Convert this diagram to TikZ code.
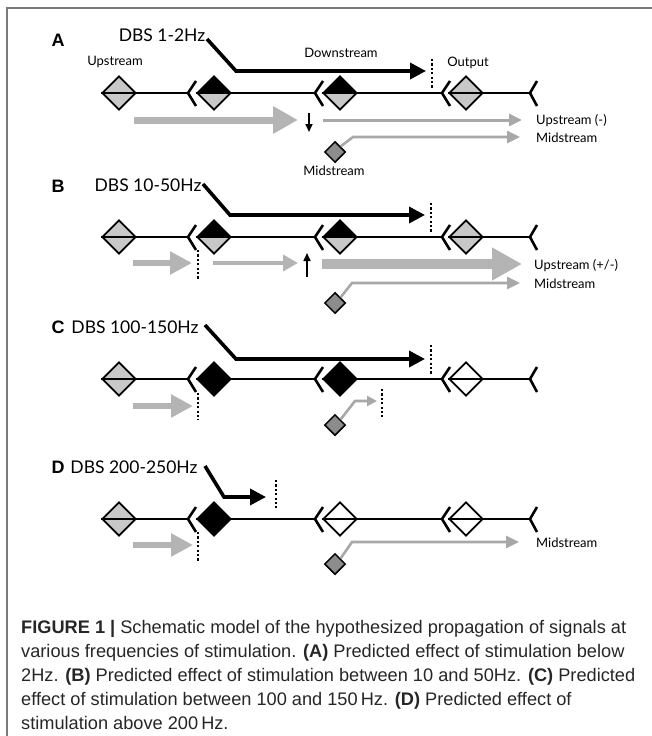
\documentclass[tikz,border=0pt]{standalone}
\usepackage{fontspec}
\setmainfont{Liberation Sans}
\newfontfamily\gill{Lato}
\usetikzlibrary{arrows.meta,shapes.geometric}
\definecolor{lgray}{HTML}{C8C8C8}
\definecolor{agray}{HTML}{B4B4B4}
\definecolor{tgray}{HTML}{A8A8A8}
\definecolor{mgray}{HTML}{8C8C8C}
\definecolor{framec}{HTML}{7A7A7A}
\definecolor{captc}{HTML}{262626}
\tikzset{
  cell/.style 2 args={diamond, draw=black, line width=1.8pt, minimum width=34pt, minimum height=34pt, inner sep=0pt, fill=#1,
    path picture={\fill[#2] (path picture bounding box.west) rectangle (path picture bounding box.south east);}},
  midcell/.style={diamond, draw=black, line width=1.5pt, minimum width=21pt, minimum height=21pt, inner sep=0pt, fill=mgray},
  axonline/.style={line width=2.2pt, black},
  synline/.style={line width=2.6pt, black, line join=round},
  dbsarrow/.style={line width=3.6pt, black, -{Triangle[length=16pt,width=16pt]}},
  dotv/.style={line width=1.6pt, black, dash pattern=on 2.2pt off 2.2pt},
  gthick/.style={line width=7pt, agray, -{Triangle[length=25pt,width=26pt]}},
  gbig/.style={line width=10pt, agray, -{Triangle[length=30pt,width=31pt]}},
  gmed/.style={line width=4pt, agray, -{Triangle[length=15pt,width=16pt]}},
  gthin/.style={line width=3pt, tgray, -{Triangle[length=13pt,width=12pt]}},
  gmid/.style={line width=2.6pt, tgray, -{Triangle[length=13pt,width=12pt]}},
  smallarrow/.style={line width=1.6pt, black, -{Triangle[length=8pt,width=7pt]}},
  lab/.style={font=\gill\fontsize{13}{15}\selectfont, inner sep=0pt},
  dbs/.style={font=\gill\fontsize{17.5}{20}\selectfont, inner sep=0pt},
  letter/.style={font=\bfseries\fontsize{18}{20}\selectfont, inner sep=0pt},
  capline/.style={font=\fontsize{18.2}{22}\selectfont, text=captc, anchor=base west, inner sep=0pt},
}
\newcommand\axonrow[7]{%
  \node[cell={lgray}{lgray}] (#1n1) at (119,#2) {};
  \node[cell={#3}{#4}] (#1n2) at (214,#2) {};
  \node[cell={#5}{#6}] (#1n3) at (340,#2) {};
  \node[cell={#7}{#7}] (#1n4) at (466,#2) {};
  \coordinate (#1s1) at (188,#2);
  \coordinate (#1s2) at (315,#2);
  \coordinate (#1s3) at (442,#2);
  \coordinate (#1s4) at (530,#2);
  \draw[axonline] (#1n1.west) -- (#1s1);
  \draw[axonline] (#1n2.west) -- (#1s2);
  \draw[axonline] (#1n3.west) -- (#1s3);
  \draw[axonline] (#1n4.west) -- (#1s4);
  \draw[synline] ([shift={(8,-12)}]#1s1) -- (#1s1) -- ([shift={(8,13)}]#1s1);
  \draw[synline] ([shift={(8,-12)}]#1s2) -- (#1s2) -- ([shift={(8,13)}]#1s2);
  \draw[synline] ([shift={(8,-12)}]#1s3) -- (#1s3) -- ([shift={(8,13)}]#1s3);
  \draw[synline] ([shift={(7,-12)}]#1s4) -- (#1s4) -- ([shift={(7,13)}]#1s4);
}
\begin{document}
\begin{tikzpicture}[x=1pt,y=-1pt]
\useasboundingbox (0,0) rectangle (652,736);
\draw[framec, line width=1.5pt] (7,736) -- (7,8) -- (652,8);

% ---------------- Panel A
\node[letter] (Alet) at (58,40) {A};
\node[dbs] (Adbs) at (162,35) {DBS 1-2Hz};
\node[lab] (Aup) at (115,62) {Upstream};
\node[lab] (Adown) at (341,53) {Downstream};
\node[lab] (Aout) at (468,63) {Output};
\axonrow{A}{93}{black}{lgray}{black}{lgray}{lgray}
\coordinate (Aa0) at (207,39); \coordinate (Aa1) at (236,71); \coordinate (Aa2) at (426,71);
\draw[dbsarrow] (Aa0) -- (Aa1) -- (Aa2);
\coordinate (Ad0) at (432,59); \coordinate (Ad1) at (432,88);
\draw[dotv] (Ad0) -- (Ad1);
\coordinate (Ag0) at (134,120); \coordinate (Ag1) at (298,120);
\draw[gthick] (Ag0) -- (Ag1);
\coordinate (Ak0) at (309,113); \coordinate (Ak1) at (309,132);
\draw[smallarrow] (Ak0) -- (Ak1);
\coordinate (At0) at (323,120); \coordinate (At1) at (522,120);
\draw[gthin] (At0) -- (At1);
\node[lab, anchor=west] (Aupm) at (536,121) {Upstream (-)};
\node[midcell] (Amid) at (335,152) {};
\node[lab] (Amidl) at (334,171) {Midstream};
\coordinate (Am1) at (353,137); \coordinate (Am2) at (520,137);
\draw[gmid] (Amid.north east) -- (Am1) -- (Am2);
\node[lab, anchor=west] (Amidr) at (536,138) {Midstream};

% ---------------- Panel B
\node[letter] (Blet) at (58,186) {B};
\node[dbs] (Bdbs) at (148,185) {DBS 10-50Hz};
\axonrow{B}{237}{black}{lgray}{black}{lgray}{lgray}
\coordinate (Ba0) at (203,184); \coordinate (Ba1) at (230,215); \coordinate (Ba2) at (425,215);
\draw[dbsarrow] (Ba0) -- (Ba1) -- (Ba2);
\coordinate (Bd0) at (431,203); \coordinate (Bd1) at (431,232);
\draw[dotv] (Bd0) -- (Bd1);
\coordinate (Be0) at (198,250); \coordinate (Be1) at (198,280);
\draw[dotv] (Be0) -- (Be1);
\coordinate (Bg0) at (133,263); \coordinate (Bg1) at (192,263);
\draw[gthick, line width=6pt, -{Triangle[length=22pt,width=22pt]}] (Bg0) -- (Bg1);
\coordinate (Bh0) at (213,263); \coordinate (Bh1) at (298,263);
\draw[gmed] (Bh0) -- (Bh1);
\coordinate (Bk0) at (307,277); \coordinate (Bk1) at (307,253);
\draw[smallarrow] (Bk0) -- (Bk1);
\coordinate (Bb0) at (322,264); \coordinate (Bb1) at (522,264);
\draw[gbig] (Bb0) -- (Bb1);
\node[lab, anchor=west] (Bupm) at (534,266) {Upstream (+/-)};
\node[midcell] (Bmid) at (335,303) {};
\coordinate (Bm1) at (352,283); \coordinate (Bm2) at (520,283);
\draw[gmid] (Bmid.north east) -- (Bm1) -- (Bm2);
\node[lab, anchor=west] (Bmidr) at (534,284) {Midstream};

% ---------------- Panel C
\node[letter] (Clet) at (58,327) {C};
\node[dbs] (Cdbs) at (135,327) {DBS 100-150Hz};
\axonrow{C}{379}{black}{black}{black}{black}{white}
\coordinate (Ca0) at (205,325); \coordinate (Ca1) at (236,359); \coordinate (Ca2) at (425,359);
\draw[dbsarrow] (Ca0) -- (Ca1) -- (Ca2);
\coordinate (Cd0) at (431,345); \coordinate (Cd1) at (431,374);
\draw[dotv] (Cd0) -- (Cd1);
\coordinate (Ce0) at (198,393); \coordinate (Ce1) at (198,420);
\draw[dotv] (Ce0) -- (Ce1);
\coordinate (Cg0) at (133,406); \coordinate (Cg1) at (193,406);
\draw[gthick, line width=6pt, -{Triangle[length=22pt,width=22pt]}] (Cg0) -- (Cg1);
\node[midcell] (Cmid) at (335,425) {};
\coordinate (Cm1) at (355,401); \coordinate (Cm2) at (377,401);
\draw[gmid, -{Triangle[length=10pt,width=10pt]}] (Cmid.north east) -- (Cm1) -- (Cm2);
\coordinate (Cf0) at (382,389); \coordinate (Cf1) at (382,417);
\draw[dotv] (Cf0) -- (Cf1);

% ---------------- Panel D
\node[letter] (Dlet) at (58,467) {D};
\node[dbs] (Ddbs) at (134,467) {DBS 200-250Hz};
\axonrow{D}{519}{black}{black}{white}{white}{white}
\coordinate (Da0) at (205,466); \coordinate (Da1) at (224,497); \coordinate (Da2) at (266,497);
\draw[dbsarrow] (Da0) -- (Da1) -- (Da2);
\coordinate (Dd0) at (276,480); \coordinate (Dd1) at (276,508);
\draw[dotv] (Dd0) -- (Dd1);
\coordinate (De0) at (198,532); \coordinate (De1) at (198,561);
\draw[dotv] (De0) -- (De1);
\coordinate (Dg0) at (133,545); \coordinate (Dg1) at (193,545);
\draw[gthick, line width=6pt, -{Triangle[length=22pt,width=22pt]}] (Dg0) -- (Dg1);
\node[midcell] (Dmid) at (335,564) {};
\coordinate (Dm1) at (352,542); \coordinate (Dm2) at (519,542);
\draw[gmid] (Dmid.north east) -- (Dm1) -- (Dm2);
\node[lab, anchor=west] (Dmidr) at (536,543) {Midstream};

% ---------------- Caption
\node[capline] (cap1) at (21,633) {\textbf{FIGURE 1 |} Schematic model of the hypothesized propagation of signals at};
\node[capline] (cap2) at (21,657) {various frequencies of stimulation. \textbf{(A)} Predicted effect of stimulation below};
\node[capline] (cap3) at (21,681) {2Hz. \textbf{(B)} Predicted effect of stimulation between 10 and 50Hz. \textbf{(C)} Predicted};
\node[capline] (cap4) at (21,705) {effect of stimulation between 100 and 150\,Hz. \textbf{(D)} Predicted effect of};
\node[capline] (cap5) at (21,729) {stimulation above 200\,Hz.};
\end{tikzpicture}
\end{document}
